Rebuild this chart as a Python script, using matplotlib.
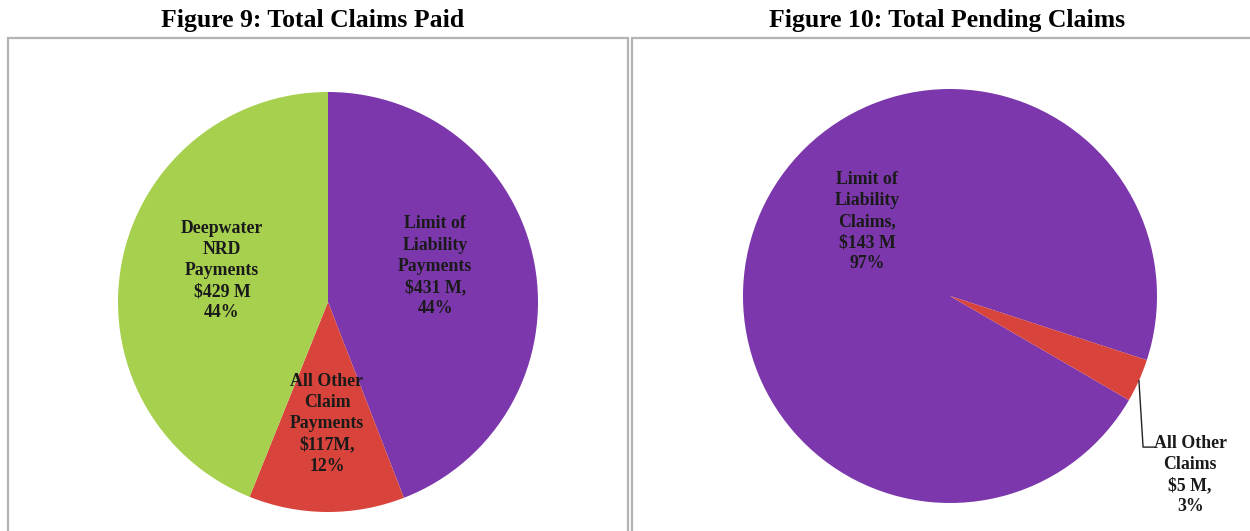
import numpy as np
import matplotlib
matplotlib.use("Agg")
import matplotlib.pyplot as plt
from matplotlib.patches import Rectangle

# Figure 9 data
paid_labels = ["Limit of\nLiability\nPayments\n$431 M,\n44%",
               "All Other\nClaim\nPayments\n$117M,\n12%",
               "Deepwater\nNRD\nPayments\n$429 M\n44%"]
paid_values = [431, 117, 429]

# Figure 10 data
pending_labels = ["Limit of\nLiability\nClaims,\n$143 M\n97%",
                  "All Other\nClaims\n$5 M,\n3%"]
pending_values = [143, 5]

purple = "#7b37ab"
red = "#d8443b"
green = "#a6d04e"
text_color = "#1a1a1a"

W, H = 1250, 531
fig = plt.figure(figsize=(W / 100, H / 100), dpi=100)
plt.rcParams["font.family"] = ["Liberation Serif", "DejaVu Serif"]


def px_axes(cx, cy, r):
    # axes box in pixel coords (origin top-left) -> figure fraction
    return fig.add_axes([(cx - r) / W, (H - cy - r) / H, 2 * r / W, 2 * r / H])


# panel frames
for x0, x1 in [(8, 628), (632, 1260)]:
    fig.patches.append(Rectangle((x0 / W, -0.05), (x1 - x0) / W, (H - 38) / H + 0.05,
                                 transform=fig.transFigure, fill=False,
                                 edgecolor="#b3b3b3", linewidth=1.6))

fig.text(313 / W, 1 - 21 / H, "Figure 9: Total Claims Paid", ha="center", va="center",
         fontsize=18.5, fontweight="bold")
fig.text(947 / W, 1 - 21 / H, "Figure 10: Total Pending Claims", ha="center", va="center",
         fontsize=18.5, fontweight="bold")

lab_kw = dict(ha="center", va="center", fontsize=12.8, fontweight="bold",
              color=text_color, linespacing=1.32)

# left pie
ax1 = px_axes(328, 302, 210)
ax1.pie(paid_values, colors=[purple, red, green], startangle=90, counterclock=False,
        radius=1, wedgeprops=dict(linewidth=0))
ax1.set_xlim(-1, 1)
ax1.set_ylim(-1, 1)
ax1.set_aspect("equal")
ax1.axis("off")
for lab, (x, y) in zip(paid_labels, [(0.51, 0.17), (-0.005, -0.58), (-0.505, 0.15)]):
    ax1.text(x, y, lab, **lab_kw)

# right pie
ax2 = px_axes(950, 296, 207)
wedges, _ = ax2.pie(pending_values, colors=[purple, red], startangle=-30.2, counterclock=False,
                    radius=1, wedgeprops=dict(linewidth=0))
ax2.set_xlim(-1, 1)
ax2.set_ylim(-1, 1)
ax2.set_aspect("equal")
ax2.axis("off")
ax2.text(-0.40, 0.36, pending_labels[0], **lab_kw)
ax2.text(1.16, -0.865, pending_labels[1], clip_on=False, **lab_kw)

# leader line from small wedge to its label
w = wedges[1]
mid = np.deg2rad((w.theta1 + w.theta2) / 2)
sx, sy = np.cos(mid), np.sin(mid)
ax2.plot([sx, sx + 0.02, sx + 0.075], [sy, -0.73, -0.73], color="#222222",
         linewidth=1.0, clip_on=False)

fig.savefig("out.png", dpi=100)
